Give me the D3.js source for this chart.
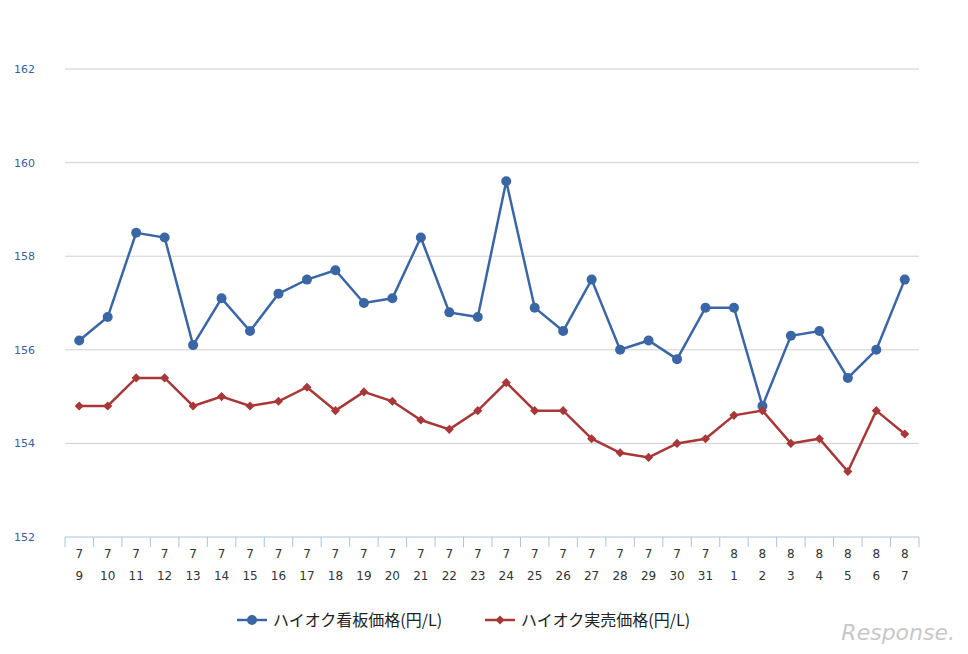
<!DOCTYPE html>
<html><head><meta charset="utf-8">
<script src="https://cdn.jsdelivr.net/npm/d3@7"></script>
<style>body{margin:0;background:#fff;font-family:"Noto Sans CJK JP","DejaVu Sans",sans-serif}</style>
</head><body><svg id="c" width="968" height="654"></svg>
<script>
const months=["7","7","7","7","7","7","7","7","7","7","7","7","7","7","7","7","7","7","7","7","7","7","7","8","8","8","8","8","8","8"];
const days=["9","10","11","12","13","14","15","16","17","18","19","20","21","22","23","24","25","26","27","28","29","30","31","1","2","3","4","5","6","7"];
const signPrice=[156.2,156.7,158.5,158.4,156.1,157.1,156.4,157.2,157.5,157.7,157.0,157.1,158.4,156.8,156.7,159.6,156.9,156.4,157.5,156.0,156.2,155.8,156.9,156.9,154.8,156.3,156.4,155.4,156.0,157.5];
const realPrice=[154.8,154.8,155.4,155.4,154.8,155.0,154.8,154.9,155.2,154.7,155.1,154.9,154.5,154.3,154.7,155.3,154.7,154.7,154.1,153.8,153.7,154.0,154.1,154.6,154.7,154.0,154.1,153.4,154.7,154.2];
const yTicks=[152,154,156,158,160,162];
const seriesNames=["ハイオク看板価格(円/L)","ハイオク実売価格(円/L)"];
const colors=["#3a66a6","#a83838"];

const svg=d3.select("#c");
const idx=d3.range(days.length);
const x=d3.scaleBand().domain(idx).range([65,919]);
const y=d3.scaleLinear().domain([152,162]).range([537,69]);
const cx=i=>x(i)+x.bandwidth()/2;
const diamond=d3.symbol(d3.symbolSquare,42);

svg.append("g").selectAll("line").data(yTicks.slice(1)).join("line")
 .attr("x1",65).attr("x2",919).attr("y1",d=>y(d)).attr("y2",d=>y(d))
 .attr("stroke","#d0d0d0").attr("stroke-width",1);
svg.append("g").selectAll("text").data(yTicks).join("text")
 .attr("x",14).attr("y",d=>y(d)+4).text(d=>d)
 .attr("font-size",11).attr("fill","#3a5f9a").attr("font-family","DejaVu Sans");
svg.append("line").attr("x1",65).attr("x2",919).attr("y1",537).attr("y2",537).attr("stroke","#a9c4e0");
svg.append("g").selectAll("line").data(d3.range(days.length+1)).join("line")
 .attr("x1",i=>65+i*x.step()).attr("x2",i=>65+i*x.step()).attr("y1",537).attr("y2",547)
 .attr("stroke","#a9c4e0");
const xl=svg.append("g").selectAll("g").data(idx).join("g");
xl.append("text").attr("x",cx).attr("y",558).attr("text-anchor","middle").text(i=>months[i]).attr("font-size",12).attr("fill","#333").attr("font-family","DejaVu Sans");
xl.append("text").attr("x",cx).attr("y",580).attr("text-anchor","middle").text(i=>days[i]).attr("font-size",12).attr("fill","#333").attr("font-family","DejaVu Sans");

const line=d3.line().x((d,i)=>cx(i)).y(d=>y(d));
[signPrice,realPrice].forEach((s,k)=>{
 svg.append("path").datum(s).attr("d",line).attr("fill","none").attr("stroke",colors[k]).attr("stroke-width",2.5);
 const g=svg.append("g");
 if(k===0) g.selectAll("circle").data(s).join("circle").attr("cx",(d,i)=>cx(i)).attr("cy",d=>y(d)).attr("r",5).attr("fill",colors[0]);
 else g.selectAll("path").data(s).join("path").attr("d",diamond).attr("transform",(d,i)=>`translate(${cx(i)},${y(d)}) rotate(45)`).attr("fill",colors[1]);
});

const lg=[[237,seriesNames[0]],[485,seriesNames[1]]];
lg.forEach(([lx,name],k)=>{
 svg.append("line").attr("x1",lx).attr("x2",lx+30).attr("y1",620).attr("y2",620).attr("stroke",colors[k]).attr("stroke-width",2.5);
 if(k===0) svg.append("circle").attr("cx",lx+15).attr("cy",620).attr("r",5).attr("fill",colors[0]);
 else svg.append("path").attr("d",diamond).attr("transform",`translate(${lx+15},620) rotate(45)`).attr("fill",colors[1]);
 svg.append("text").attr("x",lx+36).attr("y",626).text(name).attr("font-size",16).attr("fill","#222");
});
svg.append("text").attr("x",955).attr("y",640).attr("text-anchor","end").text("Response.").attr("font-size",22).attr("font-style","italic").attr("fill","#c8c8c8").attr("font-family","DejaVu Sans");
</script></body></html>
